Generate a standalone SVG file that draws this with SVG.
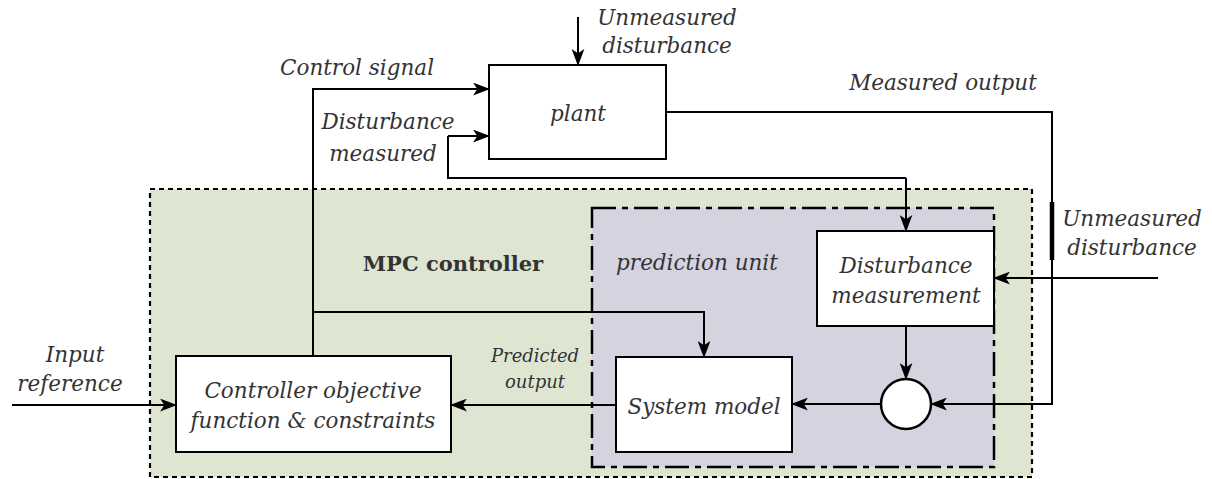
<svg xmlns="http://www.w3.org/2000/svg" width="1212" height="479" viewBox="0 0 1212 479">
<defs>
<marker id="ah" viewBox="0 0 16 12" refX="15" refY="6" markerWidth="17" markerHeight="13" markerUnits="userSpaceOnUse" orient="auto">
<path d="M0,0 L16,6 L0,12 L4,6 Z" fill="#000"/>
</marker>
</defs>
<style>
text{font-family:'DejaVu Serif','Liberation Serif',serif}
.t{font-style:italic;font-size:21.5px;fill:#333;text-anchor:middle}
.s{font-size:18px}
.box{fill:#fff;stroke:#000;stroke-width:2}
.ln{fill:none;stroke:#000;stroke-width:2}
.ar{marker-end:url(#ah)}
</style>
<g id="mpc">
<rect x="150" y="189" width="882" height="288" fill="#dee6d2" stroke="#000" stroke-width="2.2" stroke-dasharray="5,4"/>
<text x="453" y="271" font-weight="bold" font-size="21" fill="#333" text-anchor="middle">MPC controller</text>
</g>
<g id="prediction">
<rect x="592" y="208" width="402" height="259" fill="#d6d3e1" stroke="#000" stroke-width="2.5" stroke-dasharray="24,6,6,6"/>
<text class="t" x="697" y="270">prediction unit</text>
</g>
<g id="plant">
<rect class="box" x="489" y="65" width="177" height="94"/>
<text class="t" x="578" y="121">plant</text>
</g>
<g id="disturbance-measurement">
<rect class="box" x="817" y="231" width="177" height="95"/>
<text class="t" x="906" y="273">Disturbance</text>
<text class="t" x="906" y="303">measurement</text>
</g>
<g id="system-model">
<rect class="box" x="616" y="357" width="176" height="95"/>
<text class="t" x="704" y="414">System model</text>
</g>
<g id="controller">
<rect class="box" x="176" y="356" width="275" height="96"/>
<text class="t" x="313" y="398">Controller objective</text>
<text class="t" x="313" y="428">function &amp; constraints</text>
</g>
<g id="sum">
<circle cx="906" cy="404" r="25" fill="#fff" stroke="#000" stroke-width="2.5"/>
</g>
<g id="connectors">
<line class="ln ar" x1="578" y1="17" x2="578" y2="65" stroke-width="3"/>
<polyline class="ln ar" points="313,356 313,89 489,89"/>
<polyline class="ln ar" points="313,312 704,312 704,357"/>
<polyline class="ln" points="906,178 448,178 448,136"/>
<line class="ln ar" x1="448" y1="136" x2="489" y2="136"/>
<line class="ln ar" x1="906" y1="178" x2="906" y2="231"/>
<polyline class="ln ar" points="666,112 1052,112 1052,404 931,404"/>
<line x1="1052" y1="202" x2="1052" y2="260" stroke="#000" stroke-width="4.5"/>
<line class="ln ar" x1="1158" y1="278" x2="994" y2="278"/>
<line class="ln ar" x1="906" y1="326" x2="906" y2="379"/>
<line class="ln ar" x1="881" y1="404" x2="792" y2="404"/>
<line class="ln ar" x1="616" y1="405" x2="451" y2="405"/>
<line class="ln ar" x1="12" y1="405" x2="176" y2="405"/>
</g>
<g id="labels">
<text class="t" x="667" y="25">Unmeasured</text>
<text class="t" x="667" y="53">disturbance</text>
<text class="t" x="357" y="75">Control signal</text>
<text class="t" x="388" y="129">Disturbance</text>
<text class="t" x="383" y="161">measured</text>
<text class="t" x="943" y="90">Measured output</text>
<text class="t" x="1132" y="226">Unmeasured</text>
<text class="t" x="1132" y="255">disturbance</text>
<text class="t" x="75" y="362">Input</text>
<text class="t" x="70" y="391">reference</text>
<text class="t s" x="535" y="362">Predicted</text>
<text class="t s" x="535" y="388">output</text>
</g>
</svg>
